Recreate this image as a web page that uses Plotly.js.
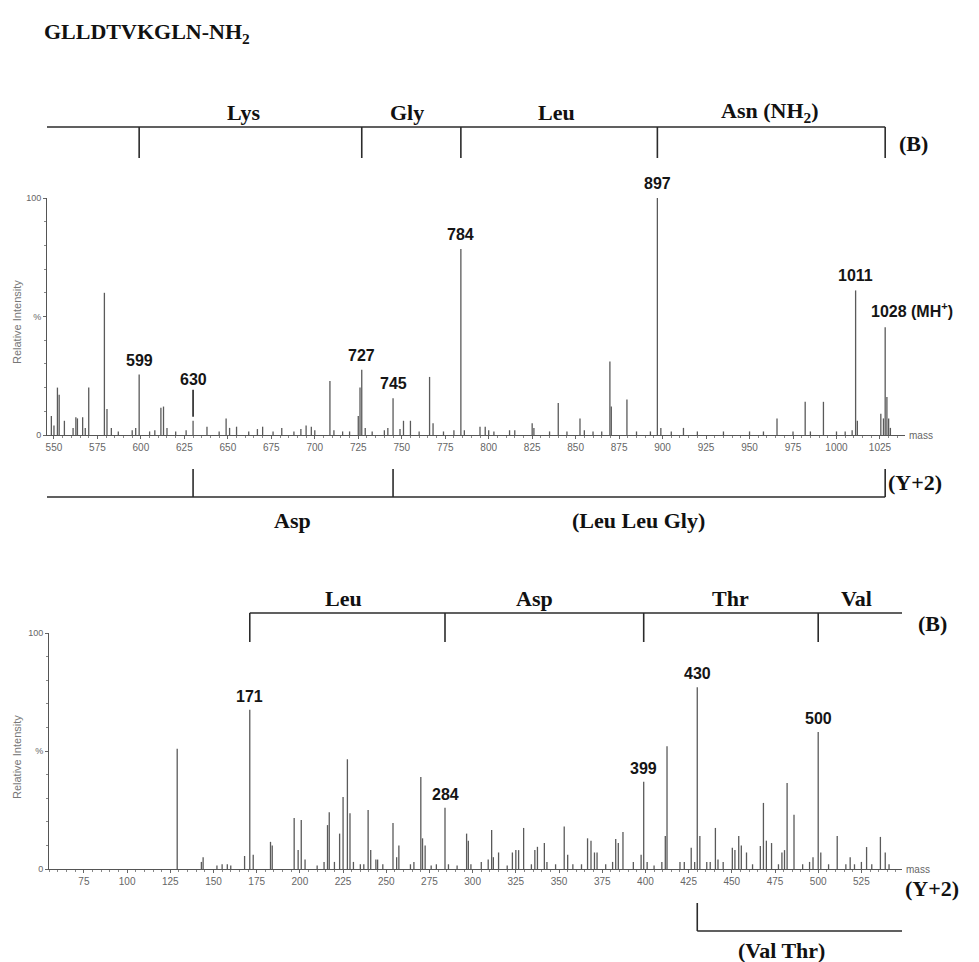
<!DOCTYPE html>
<html>
<head>
<meta charset="utf-8">
<script src="https://cdn.plot.ly/plotly-3.0.1.min.js"></script>
<style>
  html, body { margin: 0; padding: 0; background: #fff; }
  #chart { width: 979px; height: 962px; }
</style>
</head>
<body>
<div id="chart"></div>
<script>
// Peptide GLLDTVKGLN-NH2 — MS/MS spectra, upper mass range (m/z 546–1039)
const upperMass = [548.5, 550, 552, 553, 556, 561, 562.6, 563.5, 566.5, 568, 570, 579, 580.5, 583, 587,
  595, 597, 599, 605, 608, 611.5, 613, 615, 620, 626, 630, 638, 645, 649, 651, 655, 662, 667, 670,
  676, 681, 688, 692, 695, 698, 700, 708.7, 711, 716, 720, 725, 726, 727, 729, 733, 740, 742, 745,
  749, 751, 755, 760, 766, 768, 774, 780, 784, 786, 795, 798, 800, 803, 812, 815, 825, 826, 835,
  840, 845, 852.5, 855, 860, 865, 869.7, 870.5, 879.5, 885, 893, 897, 899, 905, 912, 920, 935, 950,
  958, 965.8, 975, 982, 985, 992.5, 1000, 1005, 1009, 1011, 1012, 1025.5, 1027, 1028, 1029, 1030, 1031];
const upperIntensity = [8, 4, 20, 17, 6, 3, 7.5, 7, 7.5, 3, 20, 60, 11, 3, 1.5,
  2, 3, 25.5, 1.5, 2, 11.5, 12, 3, 1.5, 2, 6, 3.5, 1.5, 7, 3, 3.5, 1.5, 2.5, 3.5,
  1.5, 3, 1.5, 2.5, 4, 3.5, 2, 22.8, 2, 1.5, 1.5, 8, 20, 27.5, 3, 1.5, 2, 3, 15.5,
  2.5, 6, 6, 1.5, 24.5, 5, 1.5, 2, 78.5, 2, 3.5, 3.5, 2, 1.5, 2, 2, 5, 3, 1.5,
  13.5, 1.5, 7, 2, 1.5, 1.5, 31, 12, 15, 1.5, 1.5, 100, 3, 1.5, 3, 1.5, 1.5, 1.5,
  1.5, 7, 1.5, 14, 1.5, 14, 1.5, 1.5, 2, 61, 6, 9, 7, 45.5, 16, 7, 3];
const upperLabelled = [599, 630, 727, 745, 784, 897, 1011, 1028];
const upperLabelText = ['599', '630', '727', '745', '784', '897', '1011', '1028 (MH<sup>+</sup>)'];

// Lower mass range (m/z 55–548)
const lowerMass = [129, 143, 144, 152, 155, 158, 160, 168, 171, 173, 183, 184, 196.7, 199, 200.8, 203,
  210, 214, 216, 217, 220, 223, 225, 227.5, 229, 231, 235, 237, 239.5, 241, 244, 245, 248, 253.9,
  256, 257.3, 264, 266, 270, 271, 272.5, 276, 279, 284, 286, 291, 296.5, 297.5, 299, 305, 309,
  311, 312, 315, 320, 323, 325, 326.6, 329.5, 334, 336, 337.5, 341.5, 343, 348, 353, 355, 358, 363,
  366.5, 368.5, 370.5, 372, 377, 381, 382.8, 384.3, 387, 393, 397.5, 399, 401, 405, 409.5, 411.5,
  412.5, 420, 422.5, 426.5, 428.5, 430, 431.5, 435.5, 437.5, 440.5, 442, 445, 450.3, 451.8, 454,
  455.5, 458.5, 462, 466.5, 468.3, 470, 473, 477, 479, 480.5, 482, 486, 491, 495, 497, 500, 501.5,
  506, 511, 516, 518.5, 521, 525, 528, 531, 536, 538.8, 541];
const lowerIntensity = [51, 3, 5, 1.5, 2, 2, 1.5, 5.5, 67.5, 6, 11.5, 10, 21.6, 8, 20.8, 4,
  1.5, 3, 18.6, 24, 3, 15, 30.5, 46.5, 23.6, 3, 2, 2, 25, 8, 4, 4, 2, 19.5,
  5, 10, 2, 3, 39, 13, 10, 1.5, 2, 26, 2, 1.5, 15, 12, 2, 3, 4,
  16.5, 5, 7, 1.5, 7, 8, 8, 17.4, 2, 8, 9.4, 11, 3, 2, 18, 6, 2, 2,
  13, 12, 7, 7, 2, 3, 12.7, 11, 15.7, 3, 6, 37, 3, 1.5, 3, 14,
  52, 3, 3, 9, 3, 77, 14, 3, 3, 17.4, 4, 3, 9, 8, 14,
  10, 7, 2, 9.7, 28, 12, 11, 2, 7, 8, 36.4, 23, 2, 3, 5, 58, 7,
  2, 14, 2, 5, 2, 3, 9.3, 2, 13.6, 7, 2];
const lowerLabelled = [171, 284, 399, 430, 500];
const lowerLabelText = ['171', '284', '399', '430', '500'];

// Fragment ladders: B series and Y+2 series for each range
const upperB = [599, 727, 784, 897, 1028];
const upperBNames = ['Lys', 'Gly', 'Leu', 'Asn (NH<sub>2</sub>)'];
const upperBNamePos = [659, 753, 839, 962];
const upperY = [630, 745, 1028];
const upperYNames = ['Asp', '(Leu Leu Gly)'];
const upperYNamePos = [687, 886];
const lowerB = [171, 284, 399, 500];
const lowerBNames = ['Leu', 'Asp', 'Thr', 'Val'];
const lowerBNamePos = [225, 336, 449, 522];
const lowerY = [430];
const lowerYNames = ['(Val Thr)'];
const lowerYNamePos = [479];

const upperRange = [546, 1039.4];
const lowerRange = [54.8, 548.5];

// --- helpers ---------------------------------------------------------------
function lookup(masses, values, m) {
  const i = masses.indexOf(m);
  return i >= 0 ? values[i] : 0;
}

function sticks(masses, values, xa, ya) {
  const xs = [], ys = [];
  masses.forEach((m, i) => { xs.push(m, m, null); ys.push(0, values[i], null); });
  return {
    type: 'scatter', mode: 'lines', x: xs, y: ys, xaxis: xa, yaxis: ya,
    line: { color: '#5a5a5a', width: 1.3 }, hoverinfo: 'skip', connectgaps: false
  };
}

const H = 962;
const py = p => 1 - p / H;            // pixel row -> paper fraction
const ink = '#2b2b2b';
const serif = 'Liberation Serif, Times New Roman, serif';
const sans = 'Liberation Sans, Arial, sans-serif';
const b = t => '<b>' + t + '</b>';

const shapes = [];
const annotations = [];

function hline(xref, x0, x1, yPaper) {
  shapes.push({ type: 'line', xref: xref, yref: 'paper', x0: x0, x1: x1, y0: yPaper, y1: yPaper,
    line: { color: ink, width: 1.6 } });
}
function vline(xref, x, yA, yB) {
  shapes.push({ type: 'line', xref: xref, yref: 'paper', x0: x, x1: x, y0: yA, y1: yB,
    line: { color: ink, width: 1.6 } });
}
const ladderFont = { family: serif, size: 22, color: '#111' };
function ladderText(xref, xs, names, yPaper) {
  names.forEach((t, i) => annotations.push({
    xref: xref, yref: 'paper', x: xs[i], y: yPaper, text: b(t), showarrow: false,
    xanchor: 'center', yanchor: 'middle', font: ladderFont
  }));
}
function sideText(xPix, yPix, t) {
  annotations.push({ xref: 'paper', yref: 'paper', x: xPix / 979, y: py(yPix), text: b(t),
    showarrow: false, xanchor: 'center', yanchor: 'middle', font: ladderFont });
}

// Upper B ladder (ticks hang below the rail)
hline('x', 543, upperB[upperB.length - 1], py(127));
upperB.forEach(m => vline('x', m, py(127), py(158)));
ladderText('x', upperBNamePos, upperBNames, py(112));
sideText(913, 143, '(B)');

// Upper Y+2 ladder (ticks rise above the rail)
hline('x', 543, upperY[upperY.length - 1], py(497));
upperY.forEach(m => vline('x', m, py(497), py(469)));
ladderText('x', upperYNamePos, upperYNames, py(520));
sideText(915, 483, '(Y+2)');

// Lower B ladder
hline('x2', lowerB[0], lowerRange[1], py(613));
lowerB.forEach(m => vline('x2', m, py(613), py(642)));
ladderText('x2', lowerBNamePos, lowerBNames, py(598));
sideText(932, 623, '(B)');

// Lower Y+2 ladder
vline('x2', lowerY[0], py(903), py(931));
hline('x2', lowerY[0], lowerRange[1], py(931));
ladderText('x2', lowerYNamePos, lowerYNames, py(950));
sideText(932, 888, '(Y+2)');

// Peak labels
const peakFont = { family: sans, size: 16, color: '#151515' };
upperLabelled.forEach((m, i) => {
  const v = lookup(upperMass, upperIntensity, m);
  const t = b(upperLabelText[i]);
  if (m === 630) {
    annotations.push({ xref: 'x', yref: 'y', x: m, y: v, text: t, showarrow: true,
      arrowhead: 0, arrowwidth: 1.6, arrowcolor: '#222', ax: 0, ay: -41, standoff: 4, font: peakFont });
  } else if (m === 1028) {
    annotations.push({ xref: 'x', yref: 'y', x: m, y: v, text: t, showarrow: false,
      xanchor: 'left', yanchor: 'bottom', xshift: -16, yshift: 5, font: peakFont });
  } else {
    annotations.push({ xref: 'x', yref: 'y', x: m, y: v, text: t, showarrow: false,
      xanchor: 'center', yanchor: 'bottom', yshift: 4, font: peakFont });
  }
});
lowerLabelled.forEach((m, i) => {
  const v = lookup(lowerMass, lowerIntensity, m);
  annotations.push({ xref: 'x2', yref: 'y2', x: m, y: v, text: b(lowerLabelText[i]), showarrow: false,
    xanchor: 'center', yanchor: 'bottom', yshift: 3, font: peakFont });
});

// Axis captions
[['x domain', 'y'], ['x2 domain', 'y2']].forEach(([xr, yr]) => annotations.push({
  xref: xr, yref: yr, x: 1, y: 0, text: 'mass', showarrow: false, xanchor: 'left', yanchor: 'middle',
  xshift: 2, font: { family: sans, size: 10, color: '#666' } }));
[322, 757].forEach(yp => annotations.push({
  xref: 'paper', yref: 'paper', x: 17 / 979, y: py(yp), text: 'Relative Intensity', textangle: -90,
  showarrow: false, xanchor: 'center', yanchor: 'middle', font: { family: sans, size: 11, color: '#777' } }));

// Peptide heading
annotations.push({ xref: 'paper', yref: 'paper', x: 42 / 979, y: py(33), text: b('GLLDTVKGLN-NH<sub>2</sub>'),
  showarrow: false, xanchor: 'left', yanchor: 'middle', font: { family: serif, size: 22, color: '#111' } });

// --- axes ------------------------------------------------------------------
function massAxis(domain, range, tick0, anchor) {
  return {
    domain: domain, range: range, anchor: anchor, tick0: tick0, dtick: 25, ticks: 'outside',
    ticklen: 3, tickcolor: '#666', tickwidth: 1, showline: true, linecolor: '#555', linewidth: 1,
    showgrid: false, zeroline: false, tickfont: { family: sans, size: 10, color: '#666' },
    minor: { dtick: 5, tick0: tick0, ticks: 'outside', ticklen: 2, tickcolor: '#888' }
  };
}
function intensityAxis(domain, anchor) {
  return {
    domain: domain, range: [0, 100], anchor: anchor, tickvals: [0, 50, 100], ticktext: ['0', '%', '100'],
    ticks: 'outside', ticklen: 3, tickcolor: '#666', showline: true, linecolor: '#555', linewidth: 1,
    showgrid: false, zeroline: false, tickfont: { family: sans, size: 9, color: '#666' },
    minor: { dtick: 10, ticks: 'outside', ticklen: 2, tickcolor: '#888' }
  };
}

const layout = {
  width: 979, height: 962, margin: { l: 0, r: 0, t: 0, b: 0 },
  paper_bgcolor: '#fff', plot_bgcolor: '#fff', showlegend: false,
  xaxis: massAxis([47 / 979, 905 / 979], upperRange, 550, 'y'),
  yaxis: intensityAxis([py(435), py(198)], 'x'),
  xaxis2: massAxis([49 / 979, 902 / 979], lowerRange, 75, 'y2'),
  yaxis2: intensityAxis([py(869), py(633)], 'x2'),
  shapes: shapes, annotations: annotations
};

Plotly.newPlot('chart', [
  sticks(upperMass, upperIntensity, 'x', 'y'),
  sticks(lowerMass, lowerIntensity, 'x2', 'y2')
], layout, { staticPlot: true, displayModeBar: false });
</script>
</body>
</html>
